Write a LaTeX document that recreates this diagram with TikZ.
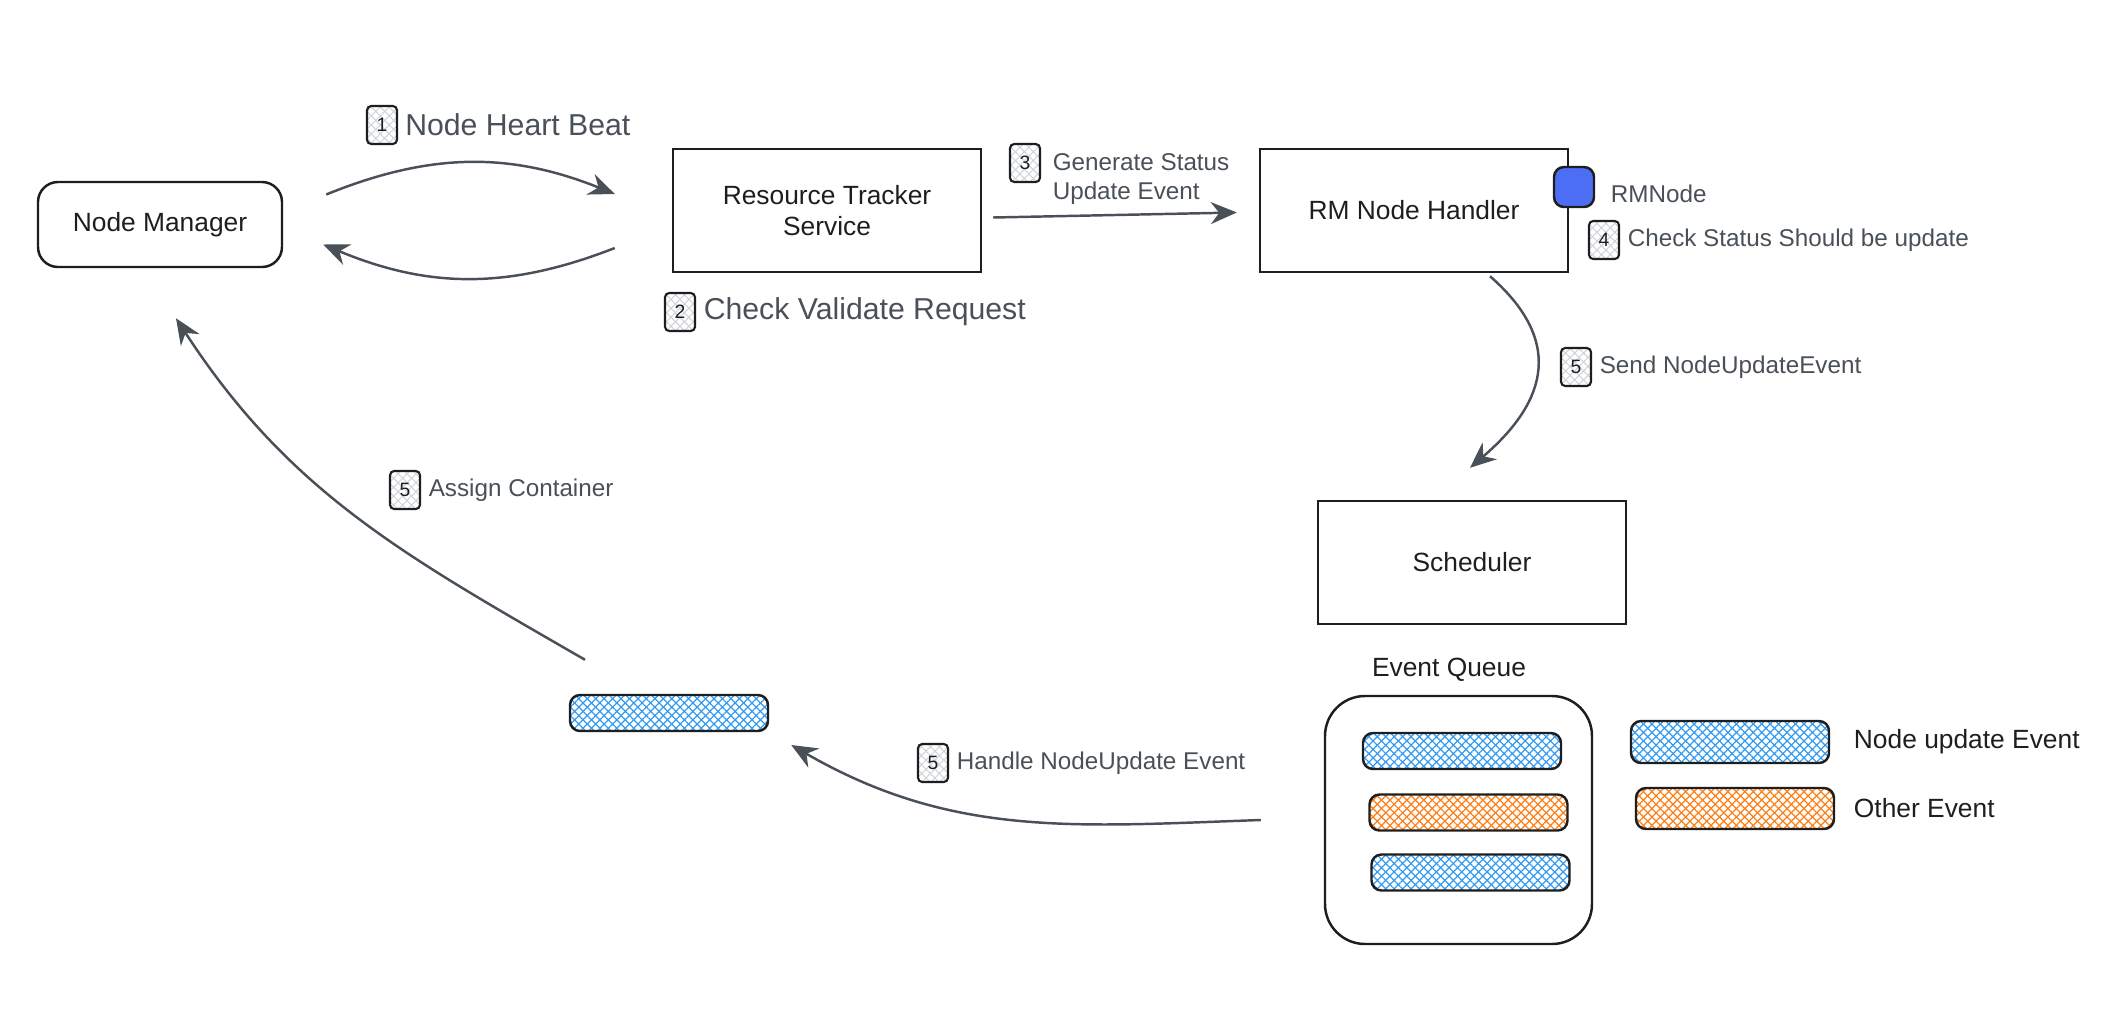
\documentclass[tikz,border=0pt]{standalone}
\usepackage{fontspec}
\setmainfont{Liberation Sans}
\usepackage{tikz}
\usetikzlibrary{arrows.meta,positioning,calc,patterns.meta}
\definecolor{InkBlack}{HTML}{1E1E1E}
\definecolor{DarkGray}{HTML}{495057}
\definecolor{HatchBlue}{HTML}{339AF0}
\definecolor{HatchOrange}{HTML}{FD7E14}
\definecolor{HatchGray}{HTML}{CED4DA}
\definecolor{rmazul}{HTML}{4C6EF5}
\tikzset{
  caja/.style     = {draw=InkBlack, line width=0.7pt, align=center, text=InkBlack,
                     font=\fontsize{7.5}{8.6}\selectfont, minimum width=30.8mm,
                     minimum height=12.3mm, inner sep=2pt},
  cajar/.style    = {caja, rounded corners=2mm, minimum width=24.4mm,
                     minimum height=8.5mm},
  cola/.style     = {draw=InkBlack, line width=0.7pt, rounded corners=4mm,
                     minimum width=26.7mm, minimum height=24.8mm},
  barra/.style    = {draw=InkBlack, line width=0.7pt, rounded corners=1mm,
                     minimum width=19.8mm, minimum height=3.6mm, inner sep=0pt},
  azul/.style     = {barra, pattern={Lines[angle=45,distance=1.7pt,line width=0.35pt]},
                     pattern color=HatchBlue,
                     preaction={pattern={Lines[angle=-45,distance=1.7pt,line width=0.35pt]},
                                pattern color=HatchBlue}},
  naranja/.style  = {barra, pattern={Lines[angle=45,distance=1.7pt,line width=0.35pt]},
                     pattern color=HatchOrange,
                     preaction={pattern={Lines[angle=-45,distance=1.7pt,line width=0.35pt]},
                                pattern color=HatchOrange}},
  rmnodo/.style   = {draw=InkBlack, line width=0.7pt, rounded corners=1mm, fill=rmazul,
                     minimum size=4mm, inner sep=0pt},
  insignia/.style = {draw=InkBlack, line width=0.6pt, rounded corners=1.2pt,
                     pattern={Lines[angle=45,distance=1.8pt,line width=0.3pt]},
                     pattern color=HatchGray,
                     preaction={pattern={Lines[angle=-45,distance=1.8pt,line width=0.3pt]},
                                pattern color=HatchGray},
                     minimum width=3mm, minimum height=3.8mm,
                     inner sep=0pt, font=\fontsize{5.5}{6}\selectfont, text=InkBlack},
  lbl/.style      = {font=\fontsize{8.6}{10}\selectfont, text=DarkGray, inner sep=0pt},
  lbls/.style     = {font=\fontsize{6.9}{8.3}\selectfont, text=DarkGray, inner sep=0pt,
                     align=left},
  txt/.style      = {font=\fontsize{7.5}{9}\selectfont, text=InkBlack, inner sep=0pt},
  flecha/.style   = {-{Stealth[length=2.6mm,width=2.2mm]}, draw=DarkGray, line width=0.7pt},
}
\begin{document}
\begin{tikzpicture}[node distance=2pt]
  \useasboundingbox (0,0) rectangle (21.24,-10.24);
  \node[cajar] (nm) at (1.60,-2.245) {Node Manager};
  \node[caja] (rts) at (8.27,-2.105) {Resource Tracker\\Service};
  \node[caja] (rmh) at (14.14,-2.105) {RM Node Handler};
  \node[rmnodo] (rmn) at (15.74,-1.87) {};
  \node[lbls, right=1.5mm of rmn, yshift=-0.7mm] (trmn) {RMNode};
  \node[caja] (sch) at (14.72,-5.625) {Scheduler};
  \node[cola] (cola) at (14.585,-8.20) {};
  \node[txt] (teq) at (14.49,-6.70) {Event Queue};
  \node[azul] (q1) at (14.62,-7.51) {};
  \node[naranja] (q2) at (14.685,-8.125) {};
  \node[azul] (q3) at (14.705,-8.725) {};
  \node[azul, minimum height=4.2mm] (lg1) at (17.30,-7.42) {};
  \node[naranja, minimum height=4.1mm] (lg2) at (17.35,-8.085) {};
  \node[txt, right=2.3mm of lg1] (tlg1) {Node update Event};
  \node[txt, right=1.8mm of lg2] (tlg2) {Other Event};
  \node[azul] (solo) at (6.69,-7.13) {};
  \node[insignia] (b1) at (3.82,-1.25) {1};
  \node[lbl, right=of b1] (t1) {Node Heart Beat};
  \node[insignia] (b2) at (6.80,-3.12) {2};
  \node[lbl, right=of b2] (t2) {Check Validate Request};
  \node[insignia] (b3) at (10.25,-1.63) {3};
  \node[lbls, anchor=north west] (t3) at ([xshift=1.1mm,yshift=-1mm]b3.north east)
    {Generate Status\\Update Event};
  \node[insignia] (b4) at (16.04,-2.40) {4};
  \node[lbls, right=of b4] (t4) {Check Status Should be update};
  \node[insignia] (b5a) at (15.76,-3.67) {5};
  \node[lbls, right=of b5a] (t5a) {Send NodeUpdateEvent};
  \node[insignia] (b5b) at (4.05,-4.90) {5};
  \node[lbls, right=of b5b] (t5b) {Assign Container};
  \node[insignia] (b5c) at (9.33,-7.63) {5};
  \node[lbls, right=of b5c] (t5c) {Handle NodeUpdate Event};
  \draw[flecha] ([xshift=4.3mm,yshift=3mm]nm.east) to[bend left=22]
    ([xshift=-5.7mm,yshift=1.65mm]rts.west);
  \draw[flecha] ([xshift=-5.7mm,yshift=-3.75mm]rts.west) to[bend left=22]
    ([xshift=4mm,yshift=-2mm]nm.east);
  \draw[flecha] ([xshift=1.1mm,yshift=-0.7mm]rts.east) -- ([xshift=-2.2mm,yshift=-0.2mm]rmh.west);
  \draw[flecha] ([xshift=7.6mm,yshift=-0.3mm]rmh.south) .. controls +(0.8,-0.7) and +(0.7,0.6)
    .. ([xshift=-0.2mm,yshift=3.2mm]sch.north);
  \draw[flecha] ([xshift=-6.3mm]cola.west) to[out=182, in=-30]
    ([xshift=2.2mm,yshift=-3.2mm]solo.east);
  \draw[flecha] ([xshift=-8.4mm,yshift=3.4mm]solo.north) to[out=150, in=-57]
    ([xshift=1.6mm,yshift=-5mm]nm.south);
\end{tikzpicture}
\end{document}
